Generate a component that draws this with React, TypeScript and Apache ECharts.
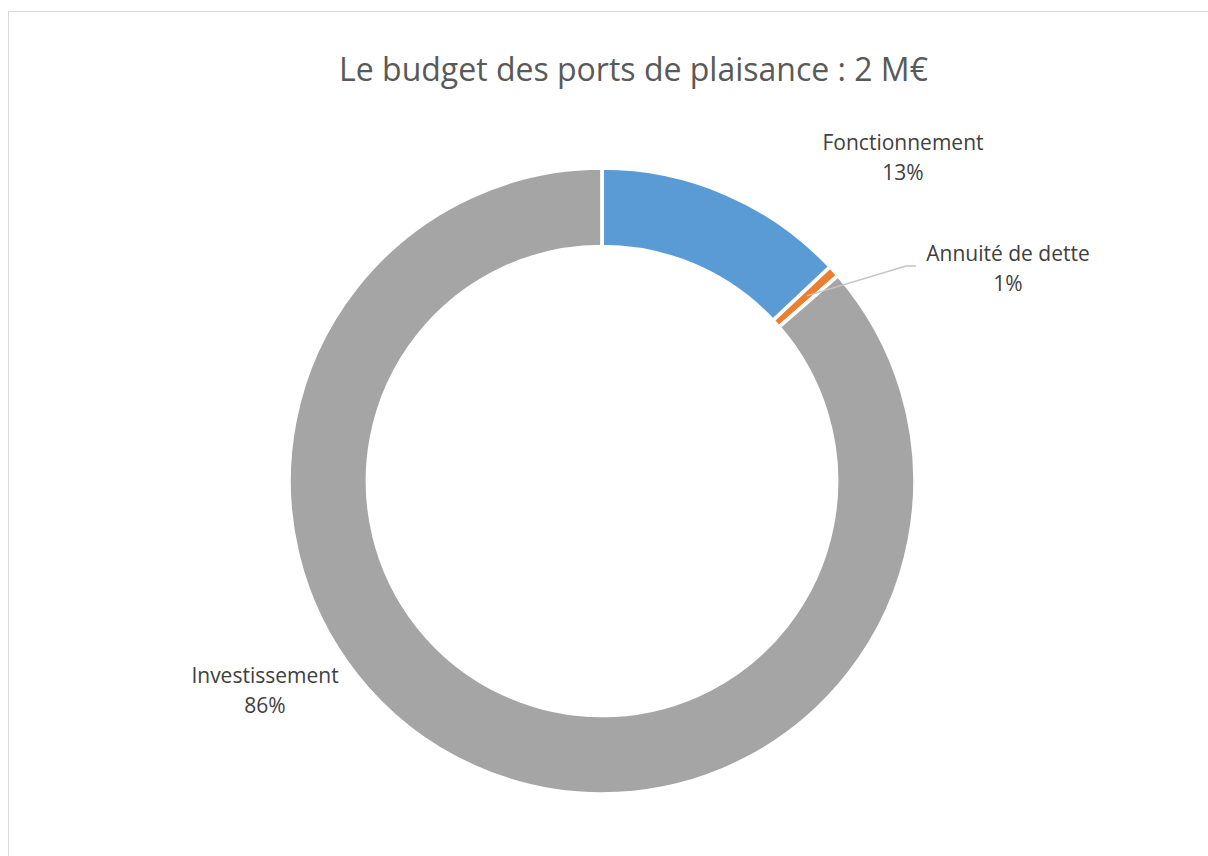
import React, { useEffect, useRef } from "react";
import * as echarts from "echarts";

const TITLE = "Le budget des ports de plaisance : 2 M€";
const CATEGORIES = ["Fonctionnement", "Annuité de dette", "Investissement"];
const SHARES = [13.0, 0.6, 86.4];
const COLORS = ["#5b9bd5", "#ed7d31", "#a5a5a5"];

// label block centres (layout only)
const LABEL_POS: [number, number][] = [
  [903, 157],
  [1008, 268],
  [265, 690],
];

const CX = 602;
const CY = 481;
const R_OUT = 313;
const R_IN = 234.5;
const R_LINE_START = 276;
const LEADER_ELBOW: [number, number] = [906, 266];
const LEADER_END: [number, number] = [916, 266];

export default function App() {
  const ref = useRef<HTMLDivElement>(null);
  useEffect(() => {
    if (!ref.current) return;
    const chart = echarts.init(ref.current, undefined, { renderer: "svg" });
    const total = SHARES.reduce((a, b) => a + b, 0);
    const midAngle = (i: number) => {
      let before = 0;
      for (let k = 0; k < i; k++) before += SHARES[k];
      const frac = (before + SHARES[i] / 2) / total;
      return ((90 - frac * 360) * Math.PI) / 180;
    };
    const a1 = midAngle(1);
    const leaderStart = [CX + R_LINE_START * Math.cos(a1), CY - R_LINE_START * Math.sin(a1)];

    const data = CATEGORIES.map((name, i) => ({
      name,
      value: SHARES[i],
      itemStyle: { color: COLORS[i] },
    }));
    chart.setOption({
      animation: false,
      backgroundColor: "#ffffff",
      graphic: {
        z: 100,
        zlevel: 1,
        elements: [
          {
            type: "rect",
            shape: { x: 8.5, y: 11.5, width: 1400, height: 1000 },
            style: { fill: "none", stroke: "#d9d9d9", lineWidth: 1 },
            silent: true,
          },
          {
            type: "text",
            x: 633.5,
            y: 68,
            style: {
              text: TITLE,
              align: "center",
              verticalAlign: "middle",
              fontSize: 32,
              fontFamily: "Open Sans",
              fill: "#595959",
            },
            silent: true,
          },
          {
            type: "polyline",
            z: 100,
            zlevel: 1,
            silent: true,
            shape: { points: [leaderStart, LEADER_ELBOW, LEADER_END] },
            style: { stroke: "#c4c4c4", lineWidth: 1.5, fill: null },
          },
        ],
      },
      series: [
        {
          type: "pie",
          z: 2,
          center: [CX, CY],
          radius: [R_IN, R_OUT],
          startAngle: 90,
          clockwise: true,
          avoidLabelOverlap: false,
          silent: true,
          itemStyle: { borderColor: "#ffffff", borderWidth: 3.7 },
          label: {
            show: true,
            position: "outside",
            formatter: (p: any) => `${p.name}\n${Math.round(p.percent)}%`,
            fontSize: 21,
            lineHeight: 30,
            fontFamily: "Open Sans",
            color: "#404040",
            align: "center",
          },
          labelLine: { show: false },
          labelLayout: (params: any) => {
            const [x, y] = LABEL_POS[params.dataIndex];
            return { x, y, align: "center", verticalAlign: "middle" };
          },
          data,
        },
      ],
    });
    return () => chart.dispose();
  }, []);
  return (
    <div
      ref={ref}
      style={{ position: "fixed", left: 0, top: 0, width: 1208, height: 856, background: "#fff" }}
    />
  );
}
